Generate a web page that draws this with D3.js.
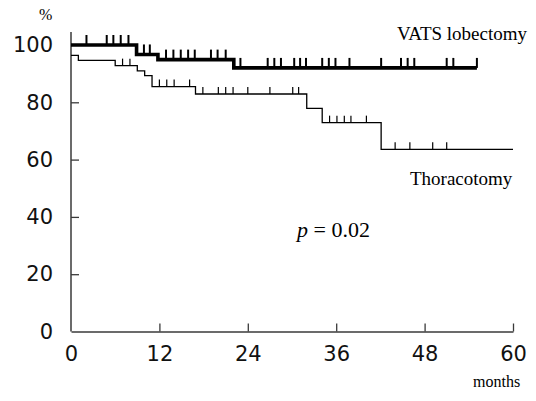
<!DOCTYPE html>
<html>
<head>
<meta charset="utf-8">
<script src="https://cdnjs.cloudflare.com/ajax/libs/d3/7.8.5/d3.min.js"></script>
<style>
  body { margin: 0; background: #fff; }
  svg { display: block; }
</style>
</head>
<body>
<svg id="chart" width="536" height="401"></svg>
<script>
// survival steps (months, %)
const vatsTimes = [0, 8.9, 11.8, 22.1, 55.1];
const vatsSurv = [100, 96.7, 94.9, 92.0, 92.0];
const vatsCensor = [2.1, 4.85, 5.75, 6.75, 7.8, 9.9, 10.7, 12.9, 13.9, 14.9, 15.9, 16.8,
  19.0, 19.9, 21.0, 23.0, 26.7, 27.6, 28.5, 30.3, 31.1, 31.9, 34.1, 35.0, 35.9, 37.8,
  42.1, 44.8, 45.7, 46.6, 51.0, 51.9, 55.1];

const thorTimes = [0, 1.0, 6.0, 9.0, 10.0, 11.0, 16.9, 32.0, 34.1, 42.1, 60];
const thorSurv = [96.4, 94.6, 92.8, 91.0, 89.3, 85.5, 82.9, 77.9, 72.9, 63.6, 63.6];
const thorCensor = [7.0, 8.0, 12.0, 13.0, 14.0, 16.1, 17.9, 20.0, 21.0, 22.0, 24.0, 27.0,
  30.1, 30.9, 35.1, 36.1, 37.1, 38.0, 40.1, 44.0, 46.0, 49.1, 51.0];

const xTicks = [0, 12, 24, 36, 48, 60];
const yTicks = [0, 20, 40, 60, 80, 100];

const svg = d3.select("#chart");

const x = d3.scaleLinear().domain([0, 60]).range([71, 513]);
const y = d3.scaleLinear().domain([0, 100]).range([331.5, 45]);

const axisColor = "#3a3a3a";
const sans = "'DejaVu Sans', sans-serif";
const serif = "'Liberation Serif', 'Times New Roman', serif";

// y axis
const yAxis = svg.append("g")
  .attr("transform", `translate(${x(0)},0)`)
  .call(d3.axisLeft(y).tickValues(yTicks).tickSize(-8).tickPadding(18));
yAxis.select(".domain").remove();
yAxis.selectAll(".tick line")
  .attr("stroke", axisColor).attr("stroke-width", 1.3)
  .style("display", (d) => (d === 0 || d === 100 ? "none" : null));
yAxis.selectAll(".tick text")
  .attr("fill", "#111")
  .style("font-family", sans)
  .style("font-size", "21px");

svg.append("line")
  .attr("x1", x(0)).attr("x2", x(0))
  .attr("y1", y(0)).attr("y2", y(104.5))
  .attr("stroke", axisColor).attr("stroke-width", 1.5);

// x axis
const xAxis = svg.append("g")
  .attr("transform", `translate(0,${y(0)})`)
  .call(d3.axisBottom(x).tickValues(xTicks).tickSize(-8).tickPadding(15).tickSizeOuter(0));
xAxis.select(".domain").attr("stroke", axisColor).attr("stroke-width", 1.5);
xAxis.selectAll(".tick line")
  .attr("stroke", axisColor).attr("stroke-width", 1.3)
  .style("display", (d) => (d === 0 ? "none" : null));
xAxis.selectAll(".tick text")
  .attr("fill", "#111")
  .style("font-family", sans)
  .style("font-size", "21px");

// step curves
const stepLine = d3.line()
  .curve(d3.curveStepAfter)
  .x((d) => x(d[0]))
  .y((d) => y(d[1]));

function survAt(times, surv, t) {
  const i = d3.bisectRight(times, t) - 1;
  return surv[Math.max(0, Math.min(i, surv.length - 1))];
}

function drawCurve(times, surv, censor, width, tickW, tickH) {
  svg.append("path")
    .datum(times.map((t, i) => [t, surv[i]]))
    .attr("fill", "none")
    .attr("stroke", "#000")
    .attr("stroke-width", width)
    .attr("d", stepLine);

  svg.append("g")
    .selectAll("line")
    .data(censor)
    .join("line")
    .attr("x1", (d) => x(d))
    .attr("x2", (d) => x(d))
    .attr("y1", (d) => y(survAt(times, surv, d)))
    .attr("y2", (d) => y(survAt(times, surv, d)) - tickH)
    .attr("stroke", "#000")
    .attr("stroke-width", tickW);
}

drawCurve(thorTimes, thorSurv, thorCensor, 1.3, 1.2, 7);
drawCurve(vatsTimes, vatsSurv, vatsCensor, 3.6, 2, 10);

// labels
svg.append("text")
  .attr("x", 397).attr("y", 40)
  .style("font-family", serif).style("font-size", "19px")
  .text("VATS lobectomy");

svg.append("text")
  .attr("x", 410).attr("y", 185)
  .style("font-family", serif).style("font-size", "19px")
  .text("Thoracotomy");

svg.append("text")
  .attr("x", 473).attr("y", 387)
  .style("font-family", serif).style("font-size", "16px")
  .text("months");

svg.append("text")
  .attr("x", 39).attr("y", 20)
  .style("font-family", serif).style("font-size", "16px")
  .text("%");

const pText = svg.append("text")
  .attr("x", 297).attr("y", 237)
  .style("font-family", serif).style("font-size", "22px");
pText.append("tspan").style("font-style", "italic").text("p");
pText.append("tspan").text(" = 0.02");
</script>
</body>
</html>
